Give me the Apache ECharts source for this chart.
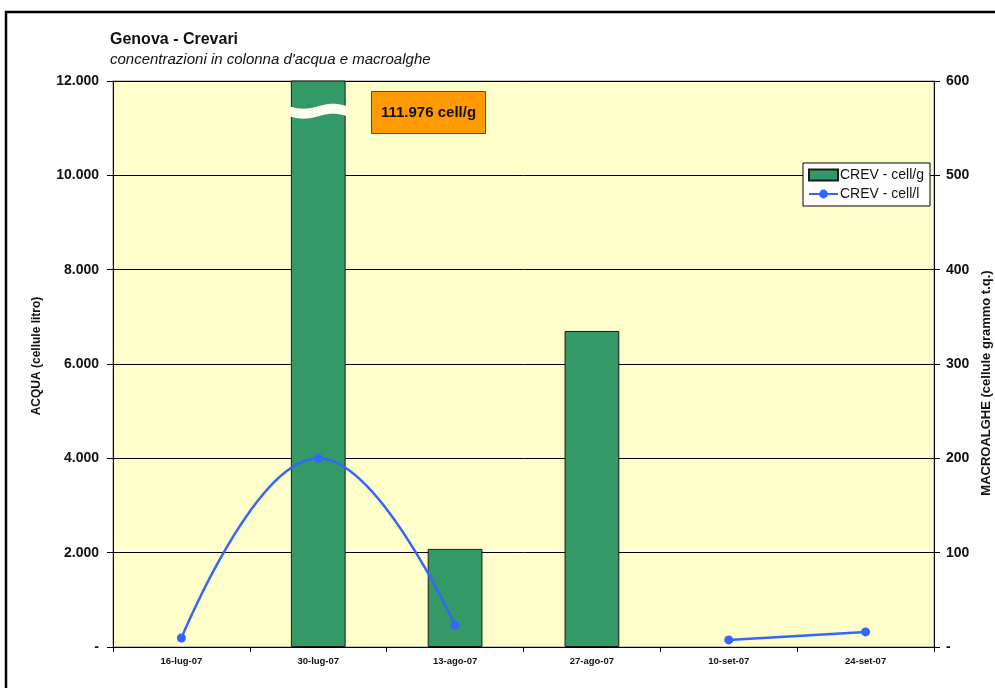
<!DOCTYPE html>
<html>
<head>
<meta charset="utf-8">
<script src="https://cdn.jsdelivr.net/npm/echarts@6/dist/echarts.min.js"></script>
<style>
  html, body { margin: 0; padding: 0; background: #fff; }
  #main { width: 995px; height: 688px; }
</style>
</head>
<body>
<div id="main"></div>
<script>
// date di campionamento
var dates = ['16-lug-07', '30-lug-07', '13-ago-07', '27-ago-07', '10-set-07', '24-set-07'];
// macroalghe, cellule / grammo (asse destro)
var cellG = [null, 111976, 104, 335, null, null];
// acqua, cellule / litro (asse sinistro)
var cellL = [190, 4000, 460, null, 150, 320];
// tick assi
var leftTicks = [0, 2000, 4000, 6000, 8000, 10000, 12000];
var rightTicks = [0, 100, 200, 300, 400, 500, 600];

var FONT = 'Liberation Sans, Arial, sans-serif';
var NARROW = 'Liberation Sans Narrow, Liberation Sans, Arial, sans-serif';

function fmt(v) {
    if (v === 0) return '-';
    return String(v).replace(/\B(?=(\d{3})+(?!\d))/g, '.');
}

var chart = echarts.init(document.getElementById('main'));

chart.setOption({
    animation: false,
    textStyle: { fontFamily: FONT },
    title: {
        text: 'Genova - Crevari',
        subtext: "concentrazioni in colonna d'acqua e macroalghe",
        left: 105,
        top: 27,
        itemGap: 4,
        textStyle: { fontSize: 16, fontWeight: 'bold', color: '#111', fontFamily: FONT },
        subtextStyle: { fontSize: 15, fontStyle: 'italic', color: '#111', fontFamily: FONT }
    },
    legend: {
        orient: 'vertical',
        left: 803,
        top: 163,
        padding: [5, 6, 5, 5],
        itemGap: 5,
        itemWidth: 29,
        itemHeight: 11,
        backgroundColor: '#fff',
        borderColor: '#000',
        borderWidth: 1,
        textStyle: { fontSize: 14, color: '#111', fontFamily: FONT, padding: [0, 0, 0, -3] },
        data: [
            { name: 'CREV - cell/g', icon: 'rect' },
            { name: 'CREV - cell/l' }
        ]
    },
    grid: {
        left: 113,
        right: 61,
        top: 81,
        bottom: 41,
        outerBoundsMode: 'none',
        show: true,
        backgroundColor: '#FFFFCC',
        borderColor: '#888',
        borderWidth: 1
    },
    xAxis: {
        type: 'category',
        data: dates,
        boundaryGap: true,
        axisLine: { lineStyle: { color: '#000', width: 1 } },
        axisTick: { show: true, length: 5, lineStyle: { color: '#000' } },
        axisLabel: { fontSize: 9.5, fontWeight: 'bold', color: '#111', margin: 9, fontFamily: NARROW }
    },
    yAxis: [
        {
            type: 'value',
            min: 0,
            max: 12000,
            interval: 2000,
            name: 'ACQUA (cellule litro)',
            nameLocation: 'middle',
            nameRotate: 90,
            nameGap: 70,
            nameTextStyle: { fontSize: 12, fontWeight: 'bold', color: '#111', fontFamily: FONT, padding: [0, 0, 0, 16] },
            axisLine: { show: true, lineStyle: { color: '#000' } },
            axisTick: { show: true, length: 6, lineStyle: { color: '#000' } },
            axisLabel: {
                fontSize: 14, fontWeight: 'bold', color: '#111', margin: 14,
                customValues: leftTicks,
                formatter: fmt
            },
            splitLine: { show: true, lineStyle: { color: '#000', width: 1 } }
        },
        {
            type: 'value',
            min: 0,
            max: 600,
            interval: 100,
            position: 'right',
            name: 'MACROALGHE (cellule grammo t.q.)',
            nameLocation: 'middle',
            nameRotate: 90,
            nameGap: 43,
            nameTextStyle: { fontSize: 13, fontWeight: 'bold', color: '#111', fontFamily: FONT, padding: [0, 38, 0, 0] },
            axisLine: { show: true, lineStyle: { color: '#000' } },
            axisTick: { show: true, length: 6, lineStyle: { color: '#000' } },
            axisLabel: {
                fontSize: 14, fontWeight: 'bold', color: '#111', margin: 12,
                customValues: rightTicks,
                formatter: fmt
            },
            splitLine: { show: false }
        }
    ],
    series: [
        {
            name: 'CREV - cell/g',
            type: 'bar',
            yAxisIndex: 1,
            barWidth: '40%',
            clip: true,
            data: cellG,
            itemStyle: { color: '#339966', borderColor: '#1a1a1a', borderWidth: 1 }
        },
        {
            name: 'CREV - cell/l',
            type: 'line',
            yAxisIndex: 0,
            smooth: 0.45,
            connectNulls: false,
            symbol: 'circle',
            symbolSize: 9,
            data: cellL,
            lineStyle: { color: '#3366FF', width: 2.5 },
            itemStyle: { color: '#3366FF' }
        }
    ]
});

// interruzione della barra fuori scala (fascia ondulata)
var c = chart.convertToPixel({ seriesIndex: 0 }, [dates[1], 568]);
var cw = chart.convertToPixel({ xAxisIndex: 0 }, 1) - chart.convertToPixel({ xAxisIndex: 0 }, 0);
var bw = cw * 0.4;
var x0 = c[0] - bw / 2 - 2, x1 = c[0] + bw / 2 + 2;
var pts = [], i, n = 20, xx;
for (i = 0; i <= n; i++) {
    xx = x0 + (x1 - x0) * i / n;
    pts.push([xx, c[1] - 5 + 2.5 * Math.sin(Math.PI * 2 * i / n)]);
}
for (i = n; i >= 0; i--) {
    xx = x0 + (x1 - x0) * i / n;
    pts.push([xx, c[1] + 5 + 2.5 * Math.sin(Math.PI * 2 * i / n)]);
}

chart.setOption({
    graphic: [
        {
            type: 'rect',
            shape: { x: 6, y: 12, width: 1100, height: 800 },
            style: { fill: null, stroke: '#000', lineWidth: 2.5 },
            silent: true
        },
        {
            type: 'polygon',
            shape: { points: pts },
            style: { fill: '#FFFFF0', stroke: null },
            z: 100
        },
        {
            type: 'group',
            left: 371,
            top: 91,
            z: 100,
            children: [
                {
                    type: 'rect',
                    shape: { x: 0, y: 0, width: 114, height: 42 },
                    style: { fill: '#FF9900', stroke: '#FF0000', lineWidth: 1 }
                },
                {
                    type: 'text',
                    x: 57,
                    y: 21,
                    style: {
                        text: '111.976 cell/g',
                        fontSize: 15,
                        fontWeight: 'bold',
                        fontFamily: FONT,
                        fill: '#111',
                        align: 'center',
                        verticalAlign: 'middle'
                    }
                }
            ]
        }
    ]
});
</script>
</body>
</html>
